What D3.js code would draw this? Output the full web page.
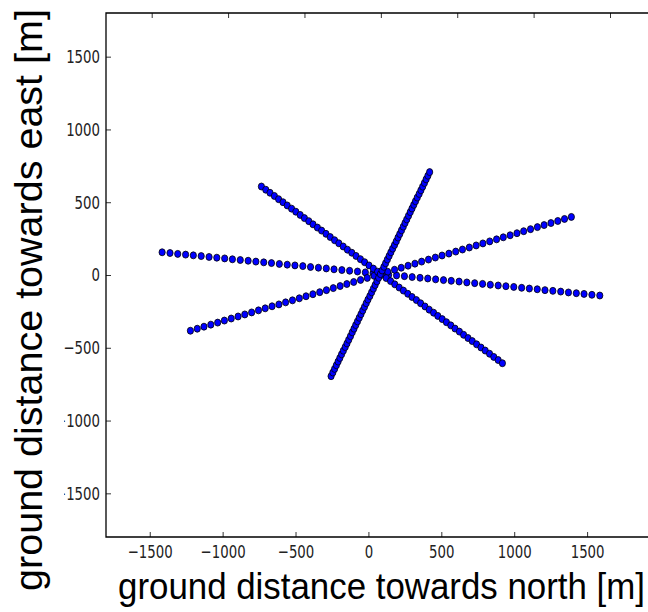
<!DOCTYPE html>
<html>
<head>
<meta charset="utf-8">
<script src="https://cdn.jsdelivr.net/npm/d3@7"></script>
<style>
  body { margin: 0; background: #fff; }
</style>
</head>
<body>
<div id="chart"></div>
<script>
// four tracks, x = ground distance towards north, y = towards east (metres)
var trackA_x = [-1415, -1361, -1308, -1254, -1201, -1147, -1093, -1040, -986, -933, -879, -825, -772, -718, -665, -611, -557, -504, -450, -397, -343, -289, -236, -182, -129, -75, -21, 32, 86, 139, 193, 247, 300, 354, 407, 461, 515, 568, 622, 675, 729, 783, 836, 890, 943, 997, 1051, 1104, 1158, 1211, 1265, 1319, 1372, 1426, 1479, 1533, 1587];
var trackA_y = [156, 151, 145, 140, 135, 130, 124, 119, 114, 108, 103, 98, 92, 87, 82, 76, 71, 66, 61, 55, 50, 45, 39, 34, 29, 24, 18, 13, 8, 2, -3, -8, -14, -19, -24, -30, -35, -40, -45, -51, -56, -61, -67, -72, -77, -82, -88, -93, -98, -104, -109, -114, -120, -125, -130, -136, -141];

var trackB_x = [-1221, -1174, -1128, -1081, -1034, -988, -941, -894, -848, -801, -754, -708, -661, -614, -568, -521, -474, -428, -381, -334, -288, -241, -194, -148, -101, -54, -8, 39, 85, 132, 179, 225, 272, 319, 365, 412, 459, 505, 552, 599, 645, 692, 739, 785, 832, 879, 925, 972, 1019, 1065, 1112, 1159, 1205, 1252, 1299, 1345, 1392];
var trackB_y = [-383, -369, -355, -341, -327, -313, -299, -285, -271, -257, -243, -229, -215, -202, -188, -174, -160, -146, -132, -118, -104, -90, -76, -62, -48, -34, -20, -6, 8, 22, 36, 50, 64, 78, 92, 106, 120, 134, 147, 161, 175, 189, 203, 217, 231, 245, 259, 273, 287, 301, 315, 329, 343, 357, 371, 385, 399];

var trackC_x = [-734, -704, -675, -645, -616, -586, -557, -527, -498, -468, -439, -409, -380, -350, -321, -291, -262, -232, -203, -173, -144, -114, -85, -55, -26, 4, 34, 63, 93, 122, 152, 181, 211, 240, 270, 299, 329, 358, 388, 417, 447, 476, 506, 535, 565, 594, 624, 653, 683, 712, 742, 772, 801, 831, 860, 890, 919];
var trackC_y = [608, 586, 565, 543, 521, 500, 478, 456, 435, 413, 391, 370, 348, 326, 305, 283, 261, 239, 218, 196, 174, 153, 131, 109, 88, 66, 44, 23, 1, -21, -42, -64, -86, -107, -129, -151, -172, -194, -216, -238, -259, -281, -303, -324, -346, -368, -389, -411, -433, -454, -476, -498, -519, -541, -563, -584, -606];

var trackD_x = [-256, -244, -232, -220, -208, -196, -184, -172, -159, -147, -135, -123, -111, -99, -87, -75, -63, -51, -39, -27, -15, -3, 10, 22, 34, 46, 58, 70, 82, 94, 106, 118, 130, 142, 154, 166, 179, 191, 203, 215, 227, 239, 251, 263, 275, 287, 299, 311, 323, 335, 348, 360, 372, 384, 396, 408, 420];
var trackD_y = [-695, -670, -645, -620, -595, -570, -545, -520, -495, -470, -445, -420, -394, -369, -344, -319, -294, -269, -244, -219, -194, -169, -144, -119, -94, -69, -44, -19, 6, 31, 56, 81, 106, 131, 156, 181, 206, 231, 257, 282, 307, 332, 357, 382, 407, 432, 457, 482, 507, 532, 557, 582, 607, 632, 657, 682, 707];

var xTicks = [-1500, -1000, -500, 0, 500, 1000, 1500];
var yTicks = [-1500, -1000, -500, 0, 500, 1000, 1500];

var width = 648, height = 612;
var plot = {left: 106, top: 13, right: 660, bottom: 537};

var svg = d3.select("#chart")
  .append("svg")
    .attr("width", width)
    .attr("height", height);

var x = d3.scaleLinear().domain([-1800, 2000]).range([plot.left, plot.right]);
var y = d3.scaleLinear().domain([-1800, 1800]).range([plot.bottom, plot.top]);
// top spine ticks sit a bit wider apart than the bottom ones in the picture
var xTop = d3.scaleLinear().domain([-1500, 1500]).range([151.7, 610]);

var squeeze = 0.72;
var fmt = d3.format("d"); // gives the real minus sign, no thousands comma

// bottom axis
var gx = svg.append("g")
  .attr("transform", "translate(0," + plot.bottom + ")")
  .call(d3.axisBottom(x).tickValues(xTicks).tickFormat(fmt).tickSizeInner(-5).tickSizeOuter(0).tickPadding(8));
gx.select(".domain").remove();

// left axis
var gy = svg.append("g")
  .attr("transform", "translate(" + plot.left + ",0)")
  .call(d3.axisLeft(y).tickValues(yTicks).tickFormat(fmt).tickSizeInner(-5).tickSizeOuter(0).tickPadding(6 / squeeze));
gy.select(".domain").remove();

// top ticks, no labels
var gt = svg.append("g")
  .attr("transform", "translate(0," + plot.top + ")")
  .call(d3.axisTop(xTop).tickValues(xTicks).tickSizeInner(-5).tickSizeOuter(0).tickFormat(""));
gt.select(".domain").remove();

svg.selectAll(".tick line").attr("stroke", "#333").attr("stroke-width", 1);
svg.selectAll(".tick text")
  .attr("fill", "#222")
  .style("font-family", "'DejaVu Sans', sans-serif")
  .style("font-size", "18.5px")
  .attr("transform", "scale(" + squeeze + ",1)");

// frame (no right spine visible, it runs off the page)
svg.append("path")
  .attr("d", "M" + plot.right + "," + plot.top + "H" + plot.left + "V" + plot.bottom + "H" + plot.right)
  .attr("fill", "none")
  .attr("stroke", "#000")
  .attr("stroke-width", 1.3);

// the tracks
var tracks = [[trackA_x, trackA_y], [trackB_x, trackB_y], [trackC_x, trackC_y], [trackD_x, trackD_y]];
tracks.forEach(function(t) {
  svg.append("g")
    .selectAll("ellipse")
    .data(d3.zip(t[0], t[1]))
    .join("ellipse")
      .attr("cx", function(d) { return x(d[0]); })
      .attr("cy", function(d) { return y(d[1]); })
      .attr("rx", 3.1)
      .attr("ry", 3.5)
      .attr("fill", "#0000ff")
      .attr("stroke", "#000")
      .attr("stroke-width", 0.8);
});

// white strip left of the tick labels, it eats the minus signs as in the picture
svg.append("rect")
  .attr("x", 0).attr("y", 0)
  .attr("width", 64).attr("height", height)
  .attr("fill", "#fff");

// axis titles
svg.append("text")
  .attr("transform", "translate(42,300) rotate(-90)")
  .attr("text-anchor", "middle")
  .style("font-family", "'Liberation Sans', Arial, sans-serif")
  .style("font-size", "39.5px")
  .text("ground distance towards east [m]");

svg.append("text")
  .attr("x", 118)
  .attr("y", 599)
  .attr("textLength", 527)
  .attr("lengthAdjust", "spacingAndGlyphs")
  .style("font-family", "'Liberation Sans', Arial, sans-serif")
  .style("font-size", "37px")
  .text("ground distance towards north [m]");
</script>
</body>
</html>
